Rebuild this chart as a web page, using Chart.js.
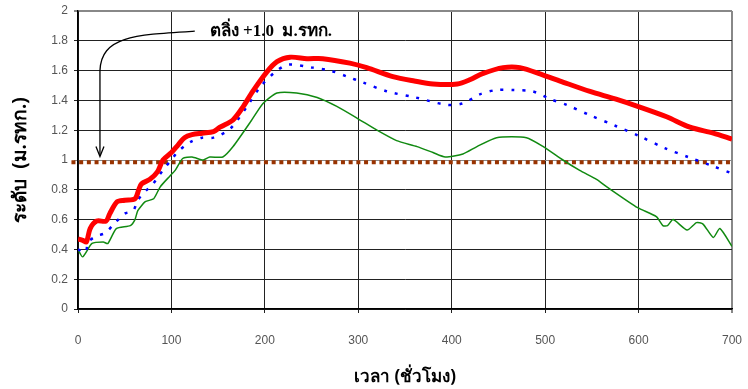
<!DOCTYPE html>
<html>
<head>
<meta charset="utf-8">
<script src="https://cdn.jsdelivr.net/npm/chart.js@4/dist/chart.umd.min.js"></script>
<style>
  body { margin: 0; background: #fff; }
  #wrap { width: 748px; height: 389px; }
</style>
</head>
<body>
<div id="wrap"><canvas id="levelChart" width="748" height="389"></canvas></div>
<script>
// water level readings (ม.รทก.) vs hours
const redHours = [0, 5, 9, 13, 20, 30, 34, 42, 50, 61, 65, 68, 77, 85, 91, 100, 107, 114, 122, 133, 145, 152, 166, 177, 187, 202, 213, 227, 245, 262, 291, 309, 337, 360, 380, 406, 420, 433, 455, 473, 498, 516, 548, 575, 599, 630, 655, 680, 700];
const redLevel = [0.47, 0.46, 0.45, 0.54, 0.59, 0.59, 0.64, 0.72, 0.73, 0.74, 0.80, 0.84, 0.87, 0.92, 1.00, 1.05, 1.10, 1.15, 1.17, 1.18, 1.19, 1.22, 1.27, 1.36, 1.46, 1.59, 1.66, 1.69, 1.68, 1.68, 1.65, 1.62, 1.56, 1.53, 1.51, 1.51, 1.54, 1.58, 1.62, 1.62, 1.57, 1.53, 1.46, 1.41, 1.36, 1.29, 1.22, 1.18, 1.14];

const blueHours = [0, 8, 11, 20, 29, 40, 50, 59, 64, 72, 79, 86, 93, 100, 106, 120, 133, 145, 163, 182, 195, 211, 225, 251, 270, 288, 305, 331, 361, 395, 412, 430, 448, 466, 487, 505, 523, 548, 575, 601, 628, 653, 679, 700];
const blueLevel = [0.40, 0.38, 0.45, 0.49, 0.51, 0.58, 0.64, 0.66, 0.73, 0.79, 0.83, 0.89, 0.95, 1.00, 1.05, 1.12, 1.15, 1.15, 1.21, 1.37, 1.49, 1.59, 1.64, 1.62, 1.60, 1.56, 1.52, 1.46, 1.42, 1.37, 1.38, 1.44, 1.47, 1.47, 1.46, 1.41, 1.37, 1.30, 1.23, 1.16, 1.08, 1.02, 0.96, 0.91];

const greenHours = [0, 5, 15, 27, 32, 41, 56, 61, 64, 72, 81, 88, 98, 104, 112, 122, 134, 141, 155, 166, 184, 198, 213, 234, 256, 277, 299, 320, 341, 363, 380, 393, 412, 427, 448, 480, 498, 519, 537, 555, 566, 599, 619, 626, 631, 637, 652, 662, 669, 680, 687, 700];
const greenLevel = [0.40, 0.35, 0.44, 0.45, 0.44, 0.54, 0.56, 0.60, 0.66, 0.72, 0.74, 0.82, 0.89, 0.93, 1.01, 1.02, 1.00, 1.02, 1.02, 1.09, 1.25, 1.38, 1.45, 1.45, 1.42, 1.36, 1.28, 1.20, 1.13, 1.09, 1.05, 1.02, 1.04, 1.09, 1.15, 1.15, 1.09, 1.00, 0.93, 0.87, 0.82, 0.68, 0.62, 0.56, 0.56, 0.60, 0.53, 0.58, 0.57, 0.48, 0.54, 0.42];

// bank level line
const bankHours = [-7, 700];
const bankLevel = [0.985, 0.985];

const xTicks = [0, 100, 200, 300, 400, 500, 600, 700];
const yTicks = [0, 0.2, 0.4, 0.6, 0.8, 1, 1.2, 1.4, 1.6, 1.8, 2];

function toPoints(xs, ys) {
    return xs.map(function (x, i) { return { x: x, y: ys[i] }; });
}

// draws the bank label and the curved arrow
const bankNote = {
    id: 'bankNote',
    afterDatasetsDraw: function (chart) {
        const c = chart.ctx;
        const xs = chart.scales.x, ys = chart.scales.y;
        c.save();
        c.strokeStyle = '#000';
        c.lineWidth = 1.3;
        const sx = xs.getPixelForValue(125), sy = ys.getPixelForValue(1.865);
        const tx = xs.getPixelForValue(23.5), tyv = ys.getPixelForValue(1.03);
        c.beginPath();
        c.moveTo(sx, sy);
        c.bezierCurveTo(xs.getPixelForValue(60), ys.getPixelForValue(1.84),
                        xs.getPixelForValue(25), ys.getPixelForValue(1.83),
                        tx, ys.getPixelForValue(1.6));
        c.lineTo(tx, tyv);
        c.stroke();
        // arrow head
        c.beginPath();
        c.moveTo(tx - 4, tyv - 9);
        c.lineTo(tx, tyv + 1);
        c.lineTo(tx + 4, tyv - 9);
        c.stroke();
        c.fillStyle = '#000';
        c.font = 'bold 17px "Liberation Serif", "Noto Sans", serif';
        c.textBaseline = 'middle';
        c.fillText('ตลิ่ง +1.0  ม.รทก.', xs.getPixelForValue(141), ys.getPixelForValue(1.86));
        c.restore();
    }
};

document.addEventListener('DOMContentLoaded', function () {
    const ctx = document.getElementById('levelChart').getContext('2d');
    new Chart(ctx, {
        type: 'line',
        data: {
            datasets: [
                {
                    data: toPoints(bankHours, bankLevel),
                    borderColor: '#993300',
                    borderWidth: 4,
                    borderDash: [4, 3.7],
                    pointRadius: 0,
                    clip: { left: 10, top: 0, right: 0, bottom: 0 },
                    order: 4
                },
                {
                    data: toPoints(greenHours, greenLevel),
                    borderColor: '#118a11',
                    borderWidth: 1.5,
                    pointRadius: 0,
                    tension: 0.2,
                    order: 3
                },
                {
                    data: toPoints(blueHours, blueLevel),
                    borderColor: '#0000ff',
                    borderWidth: 2.5,
                    borderDash: [3, 8],
                    pointRadius: 0,
                    tension: 0.3,
                    order: 2
                },
                {
                    data: toPoints(redHours, redLevel),
                    borderColor: '#ff0000',
                    borderWidth: 5,
                    pointRadius: 0,
                    tension: 0.3,
                    order: 1
                }
            ]
        },
        options: {
            responsive: false,
            animation: false,
            layout: { padding: { top: 11, right: 16, left: 0, bottom: 0 } },
            plugins: {
                legend: { display: false },
                tooltip: { enabled: false }
            },
            scales: {
                x: {
                    type: 'linear',
                    min: 0,
                    max: 700,
                    afterBuildTicks: function (axis) {
                        axis.ticks = xTicks.map(function (v) { return { value: v }; });
                    },
                    afterFit: function (axis) {
                        axis.height = 80;
                        axis.paddingLeft = 0;
                        axis.paddingRight = 0;
                    },
                    ticks: {
                        color: '#555',
                        padding: 20,
                        maxRotation: 0,
                        font: { family: '"Liberation Sans", Arial, sans-serif', size: 12 }
                    },
                    grid: {
                        color: function (c) { return c.tick && c.tick.value === 700 ? '#888' : '#222'; },
                        lineWidth: function (c) { return c.tick && c.tick.value === 700 ? 2 : 1; },
                        tickLength: 4
                    },
                    border: { color: '#000', width: 1.5 },
                    title: {
                        display: true,
                        text: 'เวลา (ชั่วโมง)',
                        color: '#000',
                        padding: { top: 0, bottom: 2 },
                        font: { family: '"Noto Sans", sans-serif', size: 17, weight: 'bold' }
                    }
                },
                y: {
                    min: 0,
                    max: 2,
                    afterBuildTicks: function (axis) {
                        axis.ticks = yTicks.map(function (v) { return { value: v }; });
                    },
                    afterFit: function (axis) {
                        axis.width = 78;
                        axis.paddingTop = 0;
                        axis.paddingBottom = 0;
                    },
                    ticks: {
                        color: '#555',
                        padding: 6,
                        callback: function (v) { return String(+v.toFixed(1)); },
                        font: { family: '"Liberation Sans", Arial, sans-serif', size: 12 }
                    },
                    grid: {
                        color: function (c) {
                            if (!c.tick) return '#222';
                            if (c.tick.value === 2) return '#888';
                            if (c.tick.value === 1) return '#888';
                            return '#222';
                        },
                        lineWidth: function (c) { return c.tick && c.tick.value === 2 ? 2 : 1; },
                        tickLength: 4
                    },
                    border: { color: '#000', width: 1.5 },
                    title: {
                        display: true,
                        text: 'ระดับ  (ม.รทก.)',
                        color: '#000',
                        padding: { top: 9, bottom: 0 },
                        font: { family: '"Noto Sans", sans-serif', size: 19, weight: 'bold' }
                    }
                }
            }
        },
        plugins: [bankNote]
    });
});
</script>
</body>
</html>
